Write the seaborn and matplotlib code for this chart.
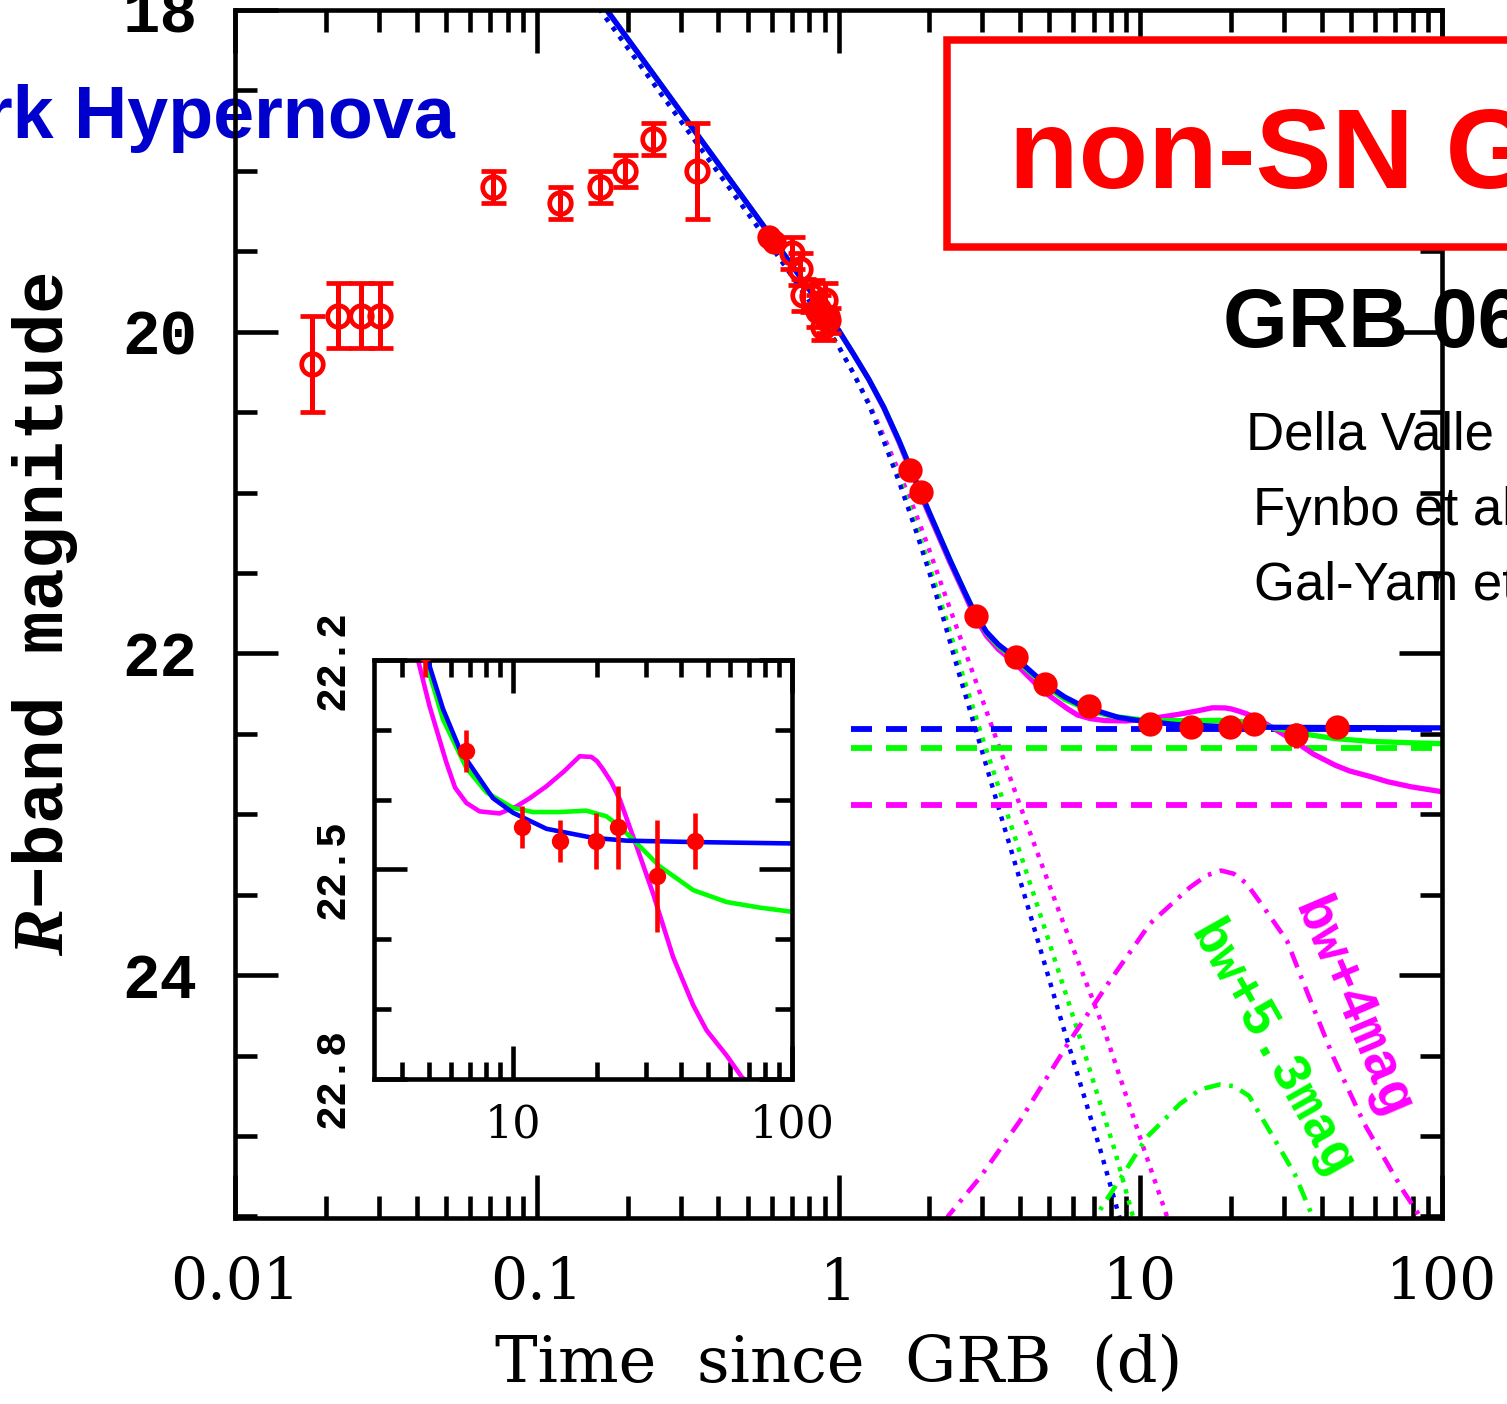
import matplotlib
matplotlib.use("Agg")
import matplotlib.pyplot as plt
import matplotlib.patches as mpatches
from matplotlib.ticker import LogLocator, MultipleLocator, NullFormatter
import seaborn as sns

# ---------------- photometry ----------------
# open symbols (days, R mag, 1-sigma)
open_t = [0.0180, 0.0219, 0.0262, 0.0302, 0.0714, 0.1193, 0.1616, 0.1966, 0.2437, 0.3386,
          0.70, 0.745, 0.765, 0.815, 0.857, 0.902, 0.891, 0.92]
open_mag = [20.20, 19.90, 19.90, 19.90, 19.10, 19.20, 19.10, 19.00, 18.80, 19.00,
            19.51, 19.61, 19.77, 19.78, 19.87, 19.80, 19.97, 19.93]
open_err = [0.30, 0.20, 0.20, 0.20, 0.10, 0.10, 0.10, 0.10, 0.10, 0.30,
            0.10, 0.10, 0.10, 0.10, 0.10, 0.10, 0.08, 0.08]

# filled symbols
fill_t = [0.59, 0.61, 0.86, 0.92, 1.728, 1.874, 2.858, 3.868, 4.85, 6.77,
          10.8, 14.7, 19.8, 23.8, 32.9, 44.9]
fill_mag = [19.41, 19.44, 19.85, 19.90, 20.857, 20.997, 21.77, 22.02, 22.19, 22.33,
            22.44, 22.46, 22.46, 22.44, 22.51, 22.46]
fill_err = [0.02, 0.02, 0.03, 0.03, 0.02, 0.02, 0.02, 0.02, 0.035, 0.03,
            0.03, 0.03, 0.04, 0.06, 0.08, 0.04]

# ---------------- models ----------------
# total light curves (afterglow + host + SN)
blue_t = [0.141, 0.1706, 0.314, 0.578, 1.00, 1.122, 1.259, 1.413, 1.585, 1.725, 1.995,
          2.342, 2.630, 2.835, 3.090, 3.388, 3.845, 4.771, 5.61, 6.477, 8.47, 10.0, 13.18,
          19.36, 25.53, 44.26, 100.0]
blue_mag = [17.79, 18.00, 18.684, 19.369, 19.99, 20.14, 20.295, 20.47, 20.675, 20.841, 21.12,
            21.42, 21.625, 21.753, 21.865, 21.945, 22.025, 22.18, 22.27, 22.33, 22.398, 22.419,
            22.442, 22.455, 22.459, 22.461, 22.463]

green_t = [0.141, 0.1706, 0.314, 0.578, 1.00, 1.122, 1.259, 1.413, 1.585, 1.725, 1.995,
           2.342, 2.630, 2.835, 3.090, 3.388, 3.845, 4.771, 5.61, 6.81, 8.04, 10.0, 11.8,
           14.7, 18.3, 21.6, 24.0, 27.0, 33.6, 44.3, 58.3, 76.7, 100.0]
green_mag = [17.79, 18.00, 18.684, 19.369, 19.99, 20.14, 20.295, 20.47, 20.675, 20.841, 21.12,
             21.42, 21.625, 21.753, 21.87, 21.955, 22.035, 22.19, 22.285, 22.355, 22.39, 22.412,
             22.418, 22.418, 22.416, 22.424, 22.438, 22.458, 22.496, 22.53, 22.547, 22.555,
             22.561]

magenta_t = [0.141, 0.1706, 0.314, 0.578, 1.00, 1.122, 1.259, 1.413, 1.585, 1.725, 1.995,
             2.342, 2.630, 2.835, 3.090, 3.388, 3.845, 4.56, 5.02, 5.77, 6.2, 6.81, 7.59, 8.95,
             10.28, 11.5, 13.18, 15.2, 17.34, 19.1, 20.0, 21.04, 22.5, 24.15, 27.73, 31.77,
             37.5, 44.26, 49.43, 58.3, 66.1, 79.4, 100.0]
magenta_mag = [17.79, 18.00, 18.684, 19.369, 19.99, 20.14, 20.295, 20.475, 20.685, 20.855,
               21.135, 21.435, 21.64, 21.775, 21.89, 21.975, 22.06, 22.199, 22.266, 22.347,
               22.383, 22.405, 22.417, 22.42, 22.41, 22.398, 22.381, 22.36, 22.338, 22.339,
               22.345, 22.357, 22.375, 22.40, 22.467, 22.535, 22.626, 22.695, 22.731, 22.767,
               22.798, 22.83, 22.86]

# afterglow components
ag_blue_t = [0.1413, 0.1622, 0.5495, 0.7943, 1.0, 1.122, 1.259, 1.413, 1.585, 1.778,
             1.995, 2.239, 2.512, 2.907, 3.387, 4.312, 5.559, 7.356, 8.913]
ag_blue_mag = [17.84, 18.00, 19.369, 19.80, 20.09, 20.26, 20.45, 20.68, 20.93, 21.20,
               21.49, 21.80, 22.13, 22.53, 22.955, 23.62, 24.325, 25.08, 25.63]

ag_green_t = [0.1413, 0.1622, 0.5495, 0.7943, 1.0, 1.122, 1.259, 1.413, 1.603, 1.803,
              2.028, 2.286, 2.576, 3.006, 3.565, 4.656, 6.152, 8.204, 9.886]
ag_green_mag = [17.84, 18.00, 19.369, 19.80, 20.09, 20.26, 20.45, 20.68, 20.93, 21.20,
                21.49, 21.80, 22.13, 22.53, 22.955, 23.62, 24.325, 25.08, 25.63]

ag_magenta_t = [0.1413, 0.1622, 0.5495, 0.7943, 1.0, 1.122, 1.259, 1.413, 1.585, 1.778,
                1.950, 2.239, 2.798, 3.996, 5.420, 7.546, 10.24, 12.24, 13.18]
ag_magenta_mag = [17.84, 18.00, 19.369, 19.80, 20.09, 20.26, 20.44, 20.65, 20.87, 21.10,
                  21.30, 21.62, 22.13, 22.946, 23.62, 24.325, 25.07, 25.496, 25.65]

# host galaxy levels
host_t = [1.1, 100.0]
host_blue = 22.47
host_green = 22.587
host_magenta = 22.945

# SN 1998bw templates, dimmed
sn4_t = [2.0, 2.312, 2.944, 3.996, 5.848, 7.943, 10.77, 14.62, 16.6, 18.54, 20.42, 22.49,
         25.64, 30.62, 35.56, 43.65, 55.34, 74.3, 83.6, 89.1]
sn4_mag = [25.75, 25.496, 25.258, 24.905, 24.407, 24.034, 23.68, 23.454, 23.38, 23.35, 23.37,
           23.43, 23.578, 23.785, 24.096, 24.511, 24.926, 25.34, 25.486, 25.60]

sn53_t = [6.76, 7.447, 8.79, 10.5, 13.55, 15.85, 18.37, 20.42, 22.91, 28.05, 32.51, 36.56, 39.8]
sn53_mag = [25.60, 25.444, 25.237, 25.009, 24.80, 24.71, 24.68, 24.69, 24.75, 25.03, 25.237,
            25.465, 25.60]

# ---------------- labels ----------------
xtick_vals = [0.01, 0.1, 1, 10, 100]
xtick_text = ["0.01", "0.1", "1", "10", "100"]
ytick_vals = [18, 20, 22, 24]
ytick_text = ["18", "20", "22", "24"]
inset_xtick_vals = [10, 100]
inset_xtick_text = ["10", "100"]
inset_ytick_vals = [22.2, 22.5, 22.8]
inset_ytick_text = ["22.2", "22.5", "22.8"]

BLUE, GREEN, MAGENTA, RED = "#0000FF", "#00FF00", "#FF00FF", "#FF0000"
MONO = ["Liberation Mono", "DejaVu Sans Mono"]

sns.set_theme(style="ticks")
plt.rcParams["font.family"] = ["DejaVu Serif", "DejaVu Sans"]
plt.rcParams["mathtext.fontset"] = "custom"
plt.rcParams["mathtext.it"] = "Liberation Serif:italic:bold"
plt.rcParams["mathtext.rm"] = "Liberation Mono"
for key in ["text.color", "axes.labelcolor", "xtick.color", "ytick.color",
            "xtick.labelcolor", "ytick.labelcolor", "axes.edgecolor"]:
    plt.rcParams[key] = "black"

FW = 3.3  # frame / tick width (pt)

W, H = 1507, 1404
fig = plt.figure(figsize=(W / 100, H / 100), dpi=100, facecolor="white")


def fbox(x0, y0, x1, y1):
    """pixel box (left, top, right, bottom) -> figure fraction rect"""
    return [x0 / W, 1 - y1 / H, (x1 - x0) / W, (y1 - y0) / H]


ax = fig.add_axes(fbox(235, 10, 1442, 1218))
ax.set_facecolor("none")
ax.set_xscale("log")

DOT = (0, (1, 1.6))
DASH = (0, (3.6, 2.4))
DASHDOT = (0, (3.6, 1.9, 0.8, 1.9))


def curve(axis, t, m, color, lw, ls, z=2):
    sns.lineplot(x=t, y=m, ax=axis, color=color, lw=lw, linestyle=ls,
                 sort=False, estimator=None, errorbar=None, zorder=z)


# afterglow (dotted)
curve(ax, ag_magenta_t, ag_magenta_mag, MAGENTA, 3.2, DOT)
curve(ax, ag_green_t, ag_green_mag, GREEN, 3.2, DOT)
curve(ax, ag_blue_t, ag_blue_mag, BLUE, 3.2, DOT)
# host (dashed)
curve(ax, host_t, [host_magenta] * 2, MAGENTA, 4.2, DASH)
curve(ax, host_t, [host_green] * 2, GREEN, 4.2, DASH)
curve(ax, host_t, [host_blue] * 2, BLUE, 4.2, DASH)
# SN (dash-dot)
curve(ax, sn4_t, sn4_mag, MAGENTA, 3.3, DASHDOT)
curve(ax, sn53_t, sn53_mag, GREEN, 3.3, DASHDOT)
# totals
curve(ax, magenta_t, magenta_mag, MAGENTA, 3.8, "-")
curve(ax, green_t, green_mag, GREEN, 3.8, "-")
curve(ax, blue_t, blue_mag, BLUE, 3.8, "-")

ax.errorbar(open_t, open_mag, yerr=open_err, fmt="o", ms=15.5, mfc="none", mec=RED,
            mew=3.4, ecolor=RED, elinewidth=3.6, capsize=9, capthick=3.6, zorder=4)
ax.errorbar(fill_t, fill_mag, yerr=fill_err, fmt="o", ms=17.5, mfc=RED, mec=RED, mew=0,
            ecolor=RED, elinewidth=3.6, capsize=9, capthick=3.6, zorder=5)

ax.set_xlim(0.01, 100)
ax.set_ylim(25.51, 18.0)
ax.set_xticks(xtick_vals, labels=xtick_text, fontsize=42, family="DejaVu Serif")
ax.xaxis.set_minor_locator(LogLocator(base=10, subs=range(2, 10), numticks=20))
ax.xaxis.set_minor_formatter(NullFormatter())
ax.set_yticks(ytick_vals, labels=ytick_text, fontsize=45, family=MONO, fontweight="bold")
ax.yaxis.set_minor_locator(MultipleLocator(0.5))
ax.tick_params(which="both", direction="in", top=True, right=True, width=FW, color="black")
ax.tick_params(which="major", length=31)
ax.tick_params(which="minor", length=16)
ax.tick_params(axis="x", which="major", pad=27)
ax.tick_params(axis="y", which="major", pad=27)
for s in ax.spines.values():
    s.set_linewidth(FW)

ax.set_xlabel("Time  since  GRB  (d)", fontsize=46, family="DejaVu Serif")
ax.xaxis.set_label_coords(0.5, -0.096)
ax.set_ylabel(r"$R$−band magnitude", fontsize=51, family=MONO, fontweight="bold")
ax.yaxis.set_label_coords(-0.1284, 0.5)

# ---------------- inset ----------------
axi = fig.add_axes(fbox(373.5, 660, 792, 1078.5))
axi.set_facecolor("white")
axi.set_xscale("log")
curve(axi, magenta_t, magenta_mag, MAGENTA, 3.3, "-")
curve(axi, green_t, green_mag, GREEN, 3.3, "-")
curve(axi, blue_t, blue_mag, BLUE, 3.3, "-")
axi.errorbar(fill_t, fill_mag, yerr=fill_err, fmt="o", ms=12.5, mfc=RED, mec=RED, mew=0,
             ecolor=RED, elinewidth=3.3, capsize=6.5, capthick=3.3, zorder=5)
axi.set_xlim(10 ** 0.5, 100)
axi.set_ylim(22.8, 22.2)
axi.set_xticks(inset_xtick_vals, labels=inset_xtick_text, fontsize=32, family="DejaVu Serif")
axi.xaxis.set_minor_locator(LogLocator(base=10, subs=range(2, 10), numticks=20))
axi.xaxis.set_minor_formatter(NullFormatter())
axi.set_yticks(inset_ytick_vals, labels=inset_ytick_text, fontsize=30, family=MONO,
               fontweight="bold", rotation=90, va="center")
axi.yaxis.set_minor_locator(MultipleLocator(0.1))
axi.tick_params(which="both", direction="in", top=True, right=True, width=FW, color="black")
axi.tick_params(which="major", length=24)
axi.tick_params(which="minor", length=12)
axi.tick_params(axis="x", which="major", pad=18)
axi.tick_params(axis="y", which="major", pad=15)
for s in axi.spines.values():
    s.set_linewidth(FW)
axi.set_xlabel("")
axi.set_ylabel("")

# SN template labels
fig.text(1352 / W, 1 - 1008 / H, "bw+4mag", color=MAGENTA, fontsize=40, family=MONO,
         fontweight="bold", rotation=-67, ha="center", va="center", rotation_mode="anchor")
fig.text(1271 / W, 1 - 1050 / H, "bw+5.3mag", color=GREEN, fontsize=38, family=MONO,
         fontweight="bold", rotation=-60.5, ha="center", va="center", rotation_mode="anchor")

# ---------------- slide annotations ----------------
fig.text(455 / W, 1 - 138 / H, "Dark Hypernova", ha="right", va="baseline", fontsize=53,
         fontweight="bold", color="#0000CC", family="Liberation Sans", zorder=-1)
fig.text(1223 / W, 1 - 347 / H, "GRB 060614", ha="left", va="baseline", fontsize=60,
         fontweight="bold", color="black", family="Liberation Sans", zorder=-1)
for txt, x, y in [("Della Valle et al.", 1246, 450), ("Fynbo et al.", 1253, 525),
                  ("Gal-Yam et al.", 1254, 600)]:
    fig.text(x / W, 1 - y / H, txt, ha="left", va="baseline", fontsize=38,
             color="black", family="Liberation Sans", zorder=-1)

box = mpatches.Rectangle((947 / W, 1 - 246.5 / H), 0.6, 206.5 / H, transform=fig.transFigure,
                         facecolor="white", edgecolor=RED, lw=5.4, zorder=5)
fig.patches.append(box)
fig.text(1009 / W, 1 - 188 / H, "non-SN GRB", ha="left", va="baseline", fontsize=82,
         fontweight="bold", color=RED, family="Liberation Sans", zorder=6)

fig.savefig("out.png", dpi=100, facecolor="white")
